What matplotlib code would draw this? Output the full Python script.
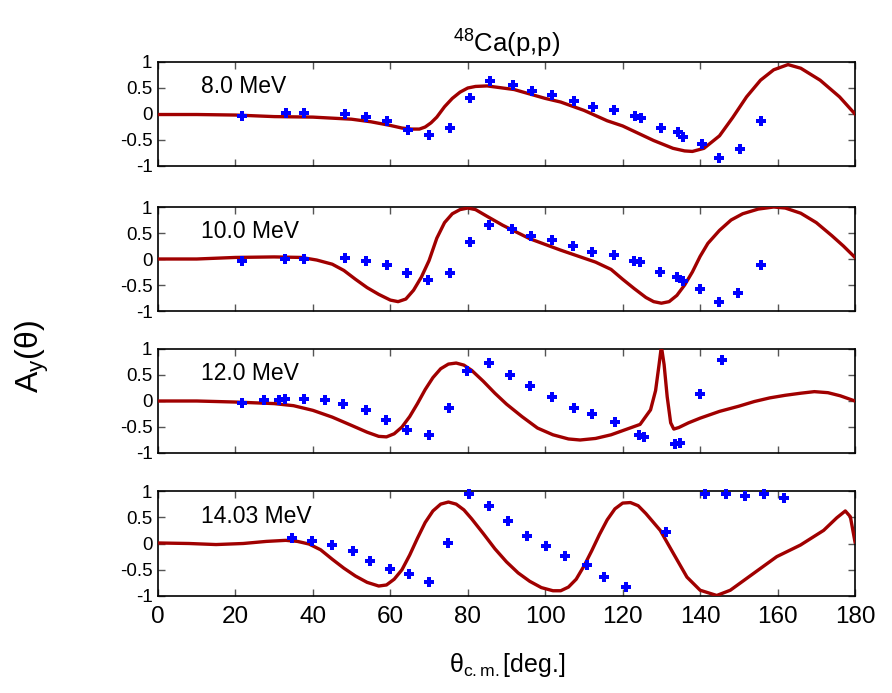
import matplotlib
matplotlib.use("Agg")
import matplotlib.pyplot as plt

plt.rcParams["font.family"] = ["Liberation Sans", "DejaVu Sans"]
plt.rcParams["mathtext.fontset"] = "custom"
plt.rcParams["mathtext.rm"] = "Liberation Sans"
plt.rcParams["mathtext.it"] = "Liberation Sans:italic"

# --- energies ---
labels = ["8.0 MeV", "10.0 MeV", "12.0 MeV", "14.03 MeV"]

# --- experimental points (theta, Ay) ---
exp_th_8 = [21.7, 33.1, 37.6, 48.3, 53.8, 59.1, 64.5, 69.9, 75.3, 80.6, 85.7, 91.6, 96.7,
            101.8, 107.4, 112.3, 117.7, 123.3, 124.7, 129.9, 134.3, 135.6, 140.4, 144.8, 150.2, 155.6]
exp_ay_8 = [-0.03, 0.01, 0.01, 0.0, -0.05, -0.13, -0.31, -0.41, -0.27, 0.31, 0.64, 0.56, 0.44,
            0.37, 0.25, 0.13, 0.08, -0.04, -0.07, -0.26, -0.34, -0.44, -0.58, -0.84, -0.67, -0.13]

exp_th_10 = [21.6, 32.9, 37.7, 48.3, 53.8, 59.2, 64.4, 69.7, 75.4, 80.5, 85.6, 91.3, 96.4,
             101.7, 107.3, 112.2, 117.7, 123.0, 124.6, 129.7, 134.1, 135.6, 139.9, 144.9, 149.9, 155.7]
exp_ay_10 = [-0.03, 0.0, 0.0, 0.01, -0.04, -0.12, -0.27, -0.40, -0.26, 0.32, 0.65, 0.57, 0.44,
             0.37, 0.25, 0.13, 0.08, -0.03, -0.05, -0.25, -0.34, -0.43, -0.57, -0.83, -0.65, -0.12]

exp_th_12 = [21.8, 27.3, 31.3, 32.7, 37.7, 43.1, 47.8, 53.6, 59.0, 64.4, 70.0, 75.1, 79.9,
             85.5, 90.9, 96.1, 101.7, 107.4, 112.1, 118.0, 124.3, 125.6, 133.4, 134.8, 140.0, 145.6]
exp_ay_12 = [-0.03, 0.02, 0.02, 0.04, 0.04, 0.02, -0.05, -0.17, -0.37, -0.56, -0.66, -0.14, 0.57,
             0.73, 0.50, 0.29, 0.08, -0.13, -0.25, -0.41, -0.65, -0.70, -0.83, -0.81, 0.13, 0.78]

exp_th_14 = [34.6, 39.7, 44.9, 50.4, 54.7, 60.0, 64.8, 70.0, 74.8, 80.3, 85.4, 90.4, 95.2,
             100.1, 105.1, 110.8, 115.3, 120.9, 131.1, 141.3, 146.6, 151.7, 156.6, 161.6]
exp_ay_14 = [0.10, 0.05, -0.03, -0.15, -0.34, -0.48, -0.59, -0.73, 0.01, 0.94, 0.71, 0.42, 0.15,
             -0.05, -0.23, -0.40, -0.63, -0.82, 0.21, 0.94, 0.94, 0.90, 0.94, 0.87]

# --- calculated curves (theta, Ay) ---
th_8 = [0, 10, 20, 30, 40, 50, 55, 60, 63, 65.5, 67.5, 69, 70.5, 72, 74, 76, 78, 80, 82, 85,
        92, 100, 104, 110, 116, 120, 128, 133, 136, 138, 141, 145, 148.4, 152, 155.6, 159,
        162.7, 166, 171, 176, 180]
ay_8 = [-0.01, -0.01, -0.02, -0.05, -0.06, -0.1, -0.15, -0.22, -0.27, -0.29, -0.29, -0.25,
        -0.17, -0.06, 0.14, 0.3, 0.42, 0.5, 0.53, 0.54, 0.47, 0.3, 0.23, 0.07, -0.13, -0.23,
        -0.51, -0.66, -0.71, -0.72, -0.66, -0.42, -0.07, 0.33, 0.65, 0.85, 0.95, 0.88, 0.65,
        0.33, 0.0]

th_10 = [0, 10, 20, 30, 37, 41, 45, 48, 51, 54, 57, 60, 62, 64, 66, 68, 70, 72, 74, 76, 78, 80,
         82, 85, 89, 96, 104, 113, 117, 120, 123, 126, 128, 130, 132, 134, 136, 138, 140, 142,
         145, 148, 151, 155, 159, 162, 166, 170, 174, 177, 180]
ay_10 = [0.0, 0.0, 0.03, 0.04, 0.03, -0.02, -0.1, -0.22, -0.39, -0.55, -0.68, -0.79, -0.82,
         -0.77, -0.6, -0.35, -0.03, 0.4, 0.7, 0.87, 0.95, 0.98, 0.95, 0.82, 0.65, 0.39, 0.17,
         -0.06, -0.2, -0.39, -0.57, -0.74, -0.82, -0.85, -0.82, -0.7, -0.5, -0.25, 0.05, 0.3,
         0.55, 0.75, 0.87, 0.96, 1.0, 0.98, 0.88, 0.7, 0.45, 0.25, 0.03]

th_12 = [0, 10, 20, 30, 35, 40, 45, 50, 54, 57, 59, 61, 63, 65, 67, 69, 71, 73, 75, 77, 79, 81,
         84, 87, 90, 94, 98, 102, 106, 109, 113, 117, 120, 124.5, 127.2, 128.5, 129.4, 130.0,
         130.7, 131.5, 132.4, 133.2, 134.5, 137, 140, 145, 150, 154, 158, 162, 166, 169.5,
         173, 176.2, 180]
ay_12 = [0.0, 0.0, -0.02, -0.05, -0.09, -0.18, -0.31, -0.47, -0.6, -0.68, -0.69, -0.63, -0.5,
         -0.3, -0.05, 0.22, 0.45, 0.62, 0.71, 0.73, 0.69, 0.59, 0.38, 0.15, -0.06, -0.3, -0.52,
         -0.65, -0.73, -0.75, -0.72, -0.65, -0.57, -0.45, -0.17, 0.2, 0.7, 1.05, 0.7, 0.08,
         -0.42, -0.54, -0.51, -0.42, -0.33, -0.2, -0.1, -0.01, 0.06, 0.11, 0.15, 0.18, 0.16,
         0.1, 0.0]

th_14 = [0, 8, 15, 22, 28, 33, 36, 39, 42, 45, 48, 51, 54, 57, 59, 61, 63, 65, 67, 69, 71, 73,
         75, 77, 79, 81, 84, 87, 90, 93, 96, 99, 102, 104, 106, 108, 110, 112, 114, 116, 118,
         120, 122, 124, 126, 129.7, 133.1, 136.6, 140, 144.3, 147.8, 153.8, 159.8, 165.9,
         171.9, 175.3, 177.5, 178.8, 180]
ay_14 = [0.01, 0.0, -0.02, 0.0, 0.04, 0.06, 0.04, -0.01, -0.12, -0.3, -0.47, -0.62, -0.74,
         -0.81, -0.79, -0.68, -0.5, -0.22, 0.1, 0.4, 0.62, 0.75, 0.79, 0.75, 0.64, 0.47, 0.19,
         -0.1, -0.35, -0.56, -0.72, -0.84, -0.9, -0.9, -0.83, -0.68, -0.43, -0.14, 0.17, 0.45,
         0.66, 0.77, 0.78, 0.72, 0.57, 0.25, -0.19, -0.64, -0.89, -0.99, -0.89, -0.57, -0.25,
         -0.03, 0.25, 0.49, 0.62, 0.51, 0.03]

curves = [(th_8, ay_8), (th_10, ay_10), (th_12, ay_12), (th_14, ay_14)]
points = [(exp_th_8, exp_ay_8), (exp_th_10, exp_ay_10), (exp_th_12, exp_ay_12), (exp_th_14, exp_ay_14)]

yticks = [1, 0.5, 0, -0.5, -1]
ytick_labels = ["1", "0.5", "0", "-0.5", "-1"]
xticks = [0, 20, 40, 60, 80, 100, 120, 140, 160, 180]

W, H = 892, 693
fig = plt.figure(figsize=(W / 100, H / 100), dpi=100)

# panel frames in pixels (top, bottom)
frames = [(62, 166), (207, 311), (349, 453), (491, 596)]
left_px, right_px = 158, 855

axes = []
for i, (top, bot) in enumerate(frames):
    ax = fig.add_axes([left_px / W, 1 - bot / H, (right_px - left_px) / W, (bot - top) / H])
    th, ay = curves[i]
    ax.plot(th, ay, color="#a00000", lw=2.4, zorder=3)
    eth, eay = points[i]
    ax.plot(eth, eay, ls="none", marker="P", ms=7.5, color="#0000ff",
            markeredgewidth=0, zorder=4, clip_on=False)
    ax.set_xlim(0, 180)
    ax.set_ylim(-1, 1)
    ax.set_yticks(yticks)
    ax.set_yticklabels(ytick_labels, fontsize=13.5)
    ax.set_xticks(xticks)
    ax.tick_params(direction="in", length=5, width=1, color="#555555",
                   top=True, right=True, pad=4)
    if i < 3:
        ax.set_xticklabels([])
    else:
        ax.set_xticklabels([str(x) for x in xticks], fontsize=17.5)
        ax.tick_params(axis="x", pad=7)
    for s in ax.spines.values():
        s.set_linewidth(1.2)
    ax.text(11, 0.52, labels[i], fontsize=16.5, va="center", ha="left")
    axes.append(ax)

axes[0].set_title(r"$^{48}$Ca(p,p)", fontsize=18.5, pad=7)
fig.text(507 / W, 1 - 665 / H, r"θ$_{\mathrm{c.m.}}$[deg.]", fontsize=18, ha="center", va="center")
fig.text(32 / W, 1 - 357 / H, r"A$_{\mathrm{y}}$(θ)", fontsize=23, rotation=90,
         ha="center", va="center")

fig.savefig("out.png", dpi=100)
